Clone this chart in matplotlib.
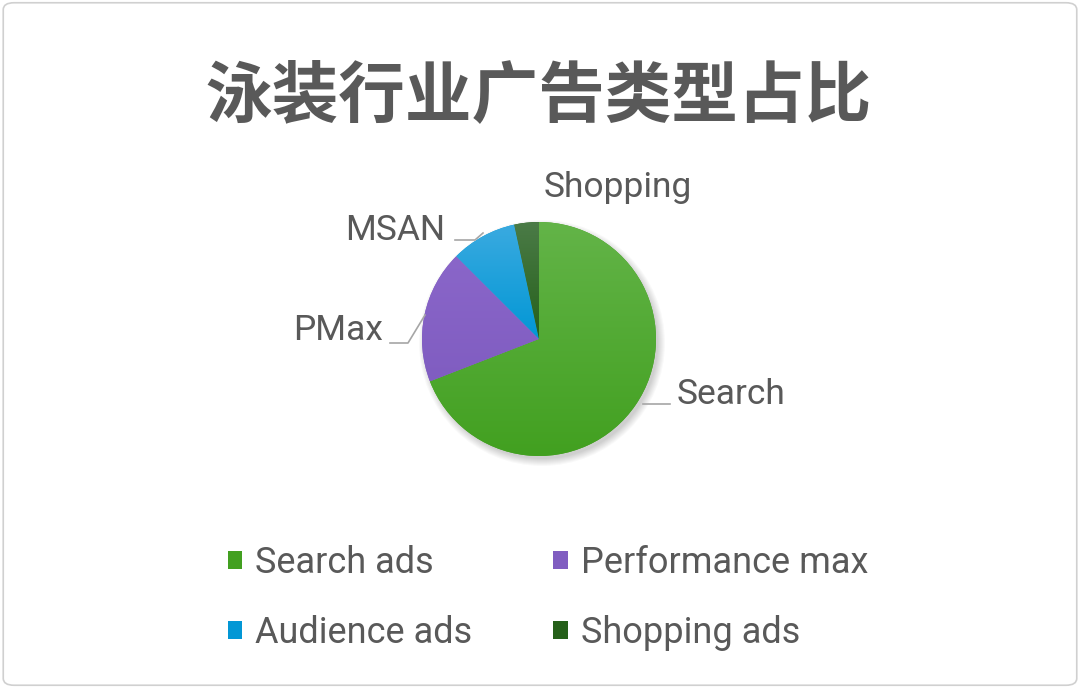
import numpy as np
import matplotlib
matplotlib.use("Agg")
import matplotlib.pyplot as plt
from matplotlib.patches import Patch, FancyBboxPatch, Circle
from matplotlib.colors import to_rgb

# data
slice_labels = ["Search", "PMax", "MSAN", "Shopping"]
legend_labels = ["Search ads", "Performance max", "Audience ads", "Shopping ads"]
shares = [69.1, 18.4, 9.1, 3.4]
top_colors = ["#63b448", "#8a66c9", "#3aaae0", "#4b7b47"]
bottom_colors = ["#42a020", "#805dc1", "#0297d5", "#25601a"]
title = "泳装行业广告类型占比"

txt_col = "#595959"
plt.rcParams["font.family"] = ["Roboto", "DejaVu Sans"]

fig = plt.figure(figsize=(10.8, 6.88), dpi=100)
ax = fig.add_axes([0, 0, 1, 1])

cx, cy, r = 539, 349, 117

# soft shadow
for k in range(8):
    ax.add_patch(Circle((cx + 3, cy - 4), r + 6 - k, color="black", alpha=0.025, lw=0, zorder=1))

wedges, _ = ax.pie(shares, radius=r, center=(cx, cy), startangle=90, counterclock=False,
                   colors=bottom_colors, wedgeprops=dict(lw=0), frame=True)
ax.set_xlim(0, 1080)
ax.set_ylim(0, 688)
ax.set_aspect("auto")
ax.axis("off")

# vertical gradient inside every slice
for w, c1, c2 in zip(wedges, top_colors, bottom_colors):
    w.set_zorder(2)
    ext = w.get_path().get_extents(w.get_patch_transform())
    t = np.linspace(0, 1, 256)[:, None]
    grad = (1 - t) * np.array(to_rgb(c1)) + t * np.array(to_rgb(c2))
    im = ax.imshow(grad[:, None, :].repeat(2, axis=1), extent=(ext.x0, ext.x1, ext.y0, ext.y1),
                   origin="upper", aspect="auto", zorder=3, interpolation="bilinear")
    im.set_clip_path(w)

# slice labels with leader lines
lab_pos = [(677, 293, "left"), (383, 358, "right"), (445, 458, "right"), (618, 501, "center")]
leaders = [[(670, 284), (643, 284)], [(390, 345), (408, 345), (425, 373)],
           [(455, 448), (475, 448), (483, 455)], None]
for name, (lx, ly, ha), ld in zip(slice_labels, lab_pos, leaders):
    ax.text(lx, ly, name, ha=ha, va="center", fontsize=25.5, color=txt_col, zorder=5)
    if ld:
        xs, ys = zip(*ld)
        ax.plot(xs, ys, color="#a6a6a6", lw=1.2, zorder=4)

fig.text(0.4986, 1 - 97 / 688, title, ha="center", va="center", fontsize=48,
         fontweight="bold", color=txt_col, family=["Noto Sans CJK SC", "DejaVu Sans"])

handles = [Patch(facecolor=c, edgecolor="none") for c in bottom_colors]
order = [0, 2, 1, 3]
leg = fig.legend([handles[i] for i in order], [legend_labels[i] for i in order], ncol=2,
                 loc="center", bbox_to_anchor=(0.5074, 1 - 598 / 688), frameon=False,
                 fontsize=26, handlelength=0.4, handleheight=0.4, handletextpad=0.35,
                 columnspacing=2.25, labelspacing=0.93)
for t in leg.get_texts():
    t.set_color(txt_col)

fig.patches.append(FancyBboxPatch((0.003, 0.004), 0.994, 0.992, boxstyle="round,pad=0,rounding_size=0.01",
                                  transform=fig.transFigure, fill=False, ec="#d0d0d0", lw=1.2))

fig.savefig("out.png", dpi=100)
